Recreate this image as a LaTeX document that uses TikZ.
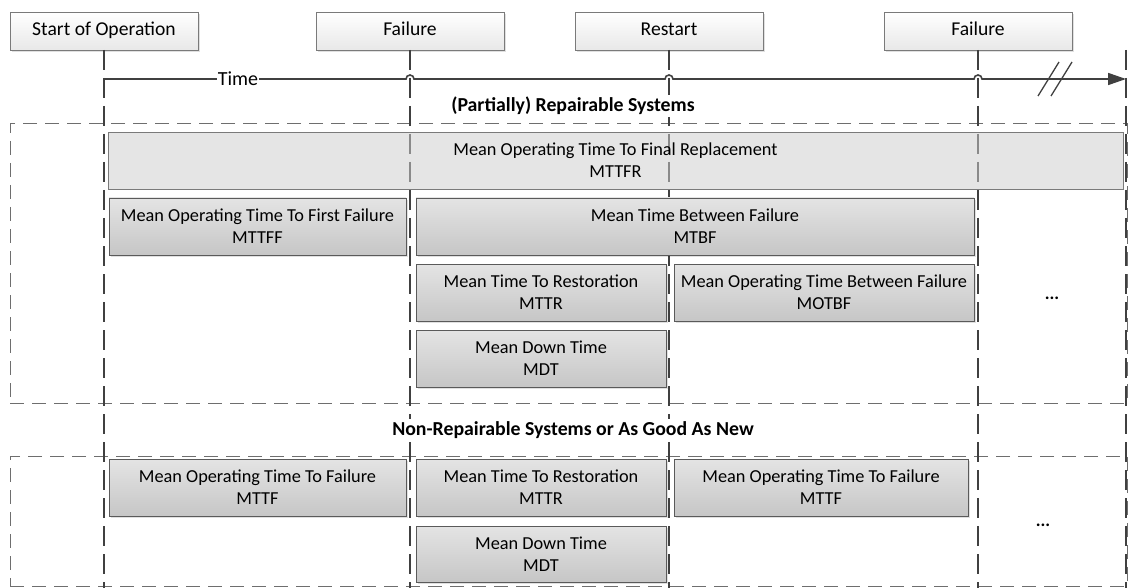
\documentclass[tikz,border=0pt]{standalone}
\usepackage{fontspec}
\setmainfont{Carlito}
\usetikzlibrary{arrows.meta,shadows}

\definecolor{linedark}{HTML}{404040}
\definecolor{groupedge}{HTML}{6E6E6E}
\definecolor{boxedge}{HTML}{5A5A5A}
\definecolor{boxtop}{HTML}{E4E4E4}
\definecolor{boxbot}{HTML}{C6C6C6}
\definecolor{evtedge}{HTML}{7A7A7A}
\definecolor{evtbot}{HTML}{E8E8E8}
\definecolor{widefill}{HTML}{CDCDCD}

\tikzset{
  txt/.style={font=\fontsize{18.3}{22}\selectfont},
  box/.style={txt, draw=boxedge, line width=0.9pt, top color=boxtop, bottom color=boxbot,
    inner sep=0pt, outer sep=0pt, align=center, anchor=north west,
    drop shadow={shadow xshift=2pt, shadow yshift=-2pt, fill=black, opacity=0.12}},
  widebox/.style={txt, draw=evtedge, line width=0.9pt, fill=widefill, fill opacity=0.524,
    text opacity=1, inner sep=0pt, outer sep=0pt, align=center, anchor=north west},
  event/.style={font=\fontsize{19.6}{22}\selectfont, draw=evtedge, line width=0.9pt,
    top color=white, bottom color=evtbot, text height=13pt, text depth=4pt,
    inner sep=0pt, outer sep=0pt, anchor=north west, minimum width=188pt, minimum height=38pt,
    drop shadow={shadow xshift=2pt, shadow yshift=-2pt, fill=black, opacity=0.12}},
  grouprect/.style={draw=groupedge, line width=1pt, dash pattern=on 14pt off 8pt,
    inner sep=0pt, outer sep=0pt, anchor=north west},
  vline/.style={draw=linedark, line width=2pt, dash pattern=on 20pt off 8pt},
  timeline/.style={draw=linedark, line width=1.6pt},
  grouptitle/.style={font=\fontsize{19.8}{22}\selectfont\bfseries, fill=white, inner sep=2pt},
  more/.style={font=\fontsize{18}{22}\selectfont\bfseries}
}

\begin{document}
\begin{tikzpicture}[x=1pt,y=-1pt]
\useasboundingbox (0,0) rectangle (1132,588);

% event boxes along the top
\node[event] (start) at (10,12)  {Start of Operation};
\node[event] (fail1) at (316,12) {Failure};
\node[event] (rest)  at (575,12) {Restart};
\node[event] (fail2) at (884,12) {Failure};

% the two system groups
\node[grouprect, minimum width=1117pt, minimum height=279pt] (grp1) at (10,124) {};
\node[grouprect, minimum width=1117pt, minimum height=130pt] (grp2) at (10,456) {};

% vertical markers running down from each event
\coordinate (b0) at (start.south |- 0,588);
\coordinate (b1) at (fail1.south |- 0,588);
\coordinate (b2) at (rest.south |- 0,588);
\coordinate (b3) at (fail2.south |- 0,588);
\coordinate (etop) at (1126,50);
\coordinate (ebot) at (1126,588);
\draw[vline] (start.south) -- (b0);
\draw[vline] (fail1.south) -- (b1);
\draw[vline] (rest.south)  -- (b2);
\draw[vline] (fail2.south) -- (b3);
\draw[vline] (etop) -- (ebot);

% repairable systems
\node[widebox, minimum width=1015pt, minimum height=57pt] (mttfr) at (108,132)
  {Mean Operating Time To Final Replacement\\MTTFR};
\node[box, minimum width=297pt, minimum height=57pt] (mttff) at (109,198)
  {Mean Operating Time To First Failure\\MTTFF};
\node[box, minimum width=558pt, minimum height=57pt] (mtbf) at (416,198)
  {Mean Time Between Failure\\MTBF};
\node[box, minimum width=250pt, minimum height=57pt] (mttr1) at (416,264)
  {Mean Time To Restoration\\MTTR};
\node[box, minimum width=300pt, minimum height=57pt] (motbf) at (674,264)
  {Mean Operating Time Between Failure\\MOTBF};
\node[box, minimum width=250pt, minimum height=57pt] (mdt1) at (416,330)
  {Mean Down Time\\MDT};
\node[more] (more1) at (1052,298) {...};

% non-repairable systems
\node[box, minimum width=297pt, minimum height=57pt] (mttf1) at (109,459)
  {Mean Operating Time To Failure\\MTTF};
\node[box, minimum width=250pt, minimum height=57pt] (mttr2) at (416,459)
  {Mean Time To Restoration\\MTTR};
\node[box, minimum width=294pt, minimum height=57pt] (mttf2) at (674,459)
  {Mean Operating Time To Failure\\MTTF};
\node[box, minimum width=250pt, minimum height=56pt] (mdt2) at (416,526)
  {Mean Down Time\\MDT};
\node[more] (more2) at (1043,525) {...};

% group titles
\node[grouptitle] (title1) at (573,106) {(Partially) Repairable Systems};
\node[grouptitle] (title2) at (573,430) {Non-Repairable Systems or As Good As New};

% time axis with hops over the markers
\coordinate (t0) at (104,79);
\coordinate (tend) at (1126,79);
\coordinate (h1) at (fail1.south |- t0);
\coordinate (h2) at (rest.south |- t0);
\coordinate (h3) at (fail2.south |- t0);
\draw[timeline, -{Triangle[length=18pt,width=12pt]}] (t0)
  -- ([xshift=-4pt]h1) arc[start angle=180, end angle=0, radius=4pt]
  -- ([xshift=-4pt]h2) arc[start angle=180, end angle=0, radius=4pt]
  -- ([xshift=-4pt]h3) arc[start angle=180, end angle=0, radius=4pt]
  -- (tend);
\node[font=\fontsize{20}{22}\selectfont, fill=white, inner sep=1pt] (timelbl) at (238,79) {Time};

% break marks on the axis
\coordinate (s1a) at (1038,96);
\coordinate (s1b) at (1059,62);
\coordinate (s2a) at (1051,96);
\coordinate (s2b) at (1072,62);
\draw[timeline, line width=1.3pt] (s1a) -- (s1b);
\draw[timeline, line width=1.3pt] (s2a) -- (s2b);
\end{tikzpicture}
\end{document}
